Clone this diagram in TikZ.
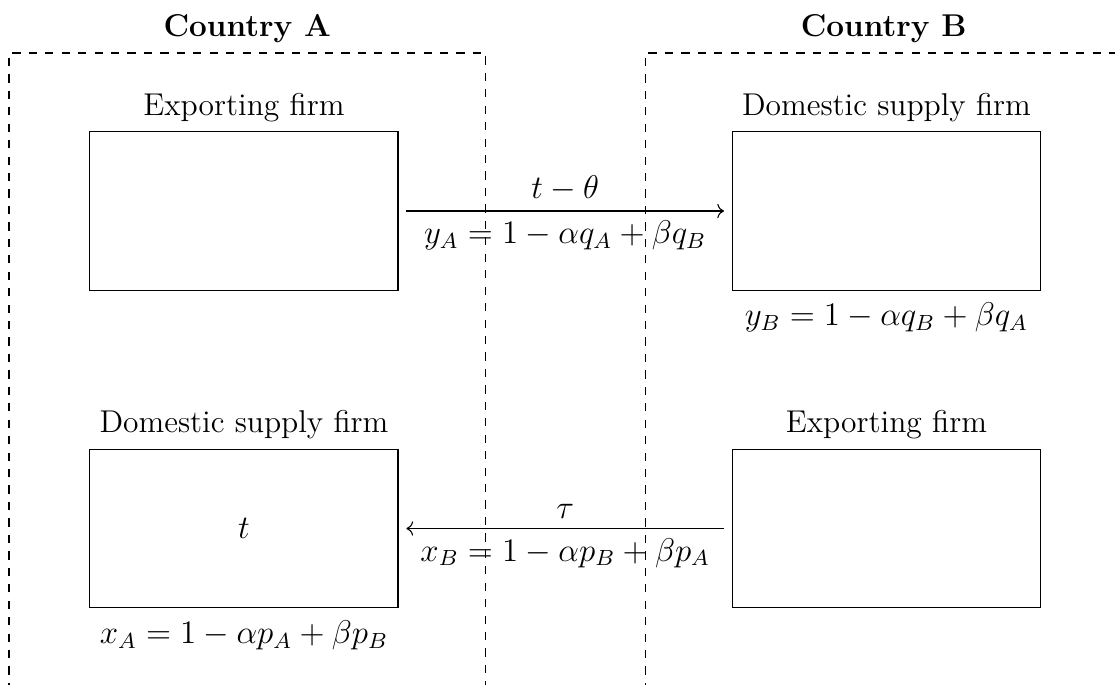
\documentclass[tikz,border=0pt]{standalone}
\usepackage{amsmath,amssymb}
\usepackage{tikz}
\usetikzlibrary{arrows.meta, positioning, calc}

\tikzset{
  firmbox/.style={draw, rectangle, minimum width=3.95cm, minimum height=2.03cm},
  countryzone/.style={draw, dashed},
  flowarrow/.style={->, shorten <=0.1cm, shorten >=0.1cm}
}

\begin{document}
\begin{tikzpicture}[font=\fontsize{11.5}{13.8}\selectfont]
  \useasboundingbox (0,0) rectangle (14.295,8.782);
  \clip (0,0) rectangle (14.295,8.782);
  % country regions (open at the page edge)
  \draw[countryzone] (0.115,-0.5) rectangle (6.23,8.103);
  \draw[countryzone] (8.27,-0.5) rectangle (15.0,8.103);
  \node[font=\fontsize{11.5}{13.8}\selectfont\bfseries] (cA) at (3.17,8.42) {Country A};
  \node[font=\fontsize{11.5}{13.8}\selectfont\bfseries] (cB) at (11.33,8.42) {Country B};
  % firms
  \node[firmbox, label={above:Exporting firm}] (expA) at (3.128,6.077) {};
  \node[firmbox, label={above:Domestic supply firm},
        label={[yshift=-1pt]below:$y_B = 1 - \alpha q_B + \beta q_A$}] (domB) at (11.365,6.077) {};
  \node[firmbox, label={above:Domestic supply firm},
        label={[yshift=-1pt]below:$x_A = 1 - \alpha p_A + \beta p_B$}] (domA) at (3.128,2.006) {$t$};
  \node[firmbox, label={above:Exporting firm}] (expB) at (11.365,2.006) {};
  % trade flows
  \draw[flowarrow] (expA) -- (domB)
    node[midway, above] {$t - \theta$}
    node[midway, below] {$y_A = 1 - \alpha q_A + \beta q_B$};
  \draw[flowarrow] (expB) -- (domA)
    node[midway, above] {$\tau$}
    node[midway, below] {$x_B = 1 - \alpha p_B + \beta p_A$};
\end{tikzpicture}
\end{document}
